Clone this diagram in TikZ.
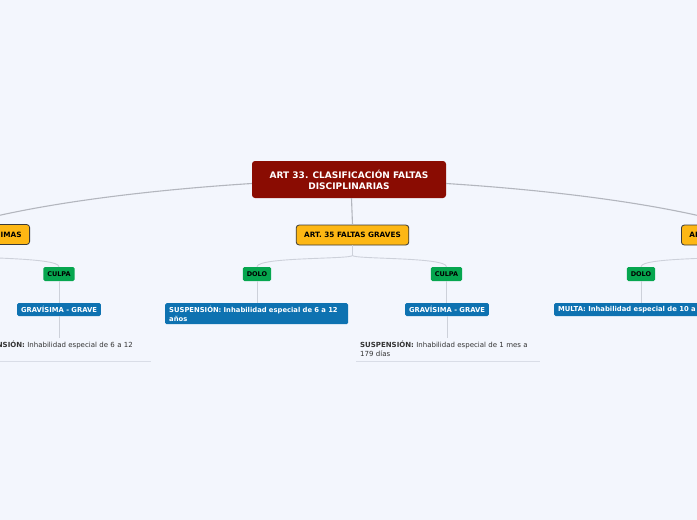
\documentclass[tikz,border=0pt]{standalone}
\usepackage{fontspec}
\setmainfont{DejaVu Sans}
\usetikzlibrary{calc}
\definecolor{bgcol}{HTML}{F3F6FD}
\definecolor{rootred}{HTML}{8A0C02}
\definecolor{orng}{HTML}{FDB714}
\definecolor{darkborder}{HTML}{3A3A3A}
\definecolor{grn}{HTML}{06A64F}
\definecolor{blu}{HTML}{0E72B1}
\definecolor{connA}{HTML}{B3B6BE}
\definecolor{connB}{HTML}{CDD1DA}
\definecolor{underl}{HTML}{D9DDE7}
\definecolor{leaftext}{HTML}{333333}
\begin{document}
\begin{tikzpicture}[x=1pt,y=-1pt,
  rootbox/.style={fill=rootred, rounded corners=3pt, text=white,
    font=\fontsize{9}{11}\selectfont\bfseries, align=center,
    minimum width=194pt, minimum height=37pt, inner sep=0pt},
  orangebox/.style={fill=orng, draw=darkborder, line width=0.8pt, rounded corners=3pt,
    font=\fontsize{7.3}{8}\selectfont\bfseries, minimum height=20pt,
    inner xsep=8pt, inner ysep=0pt},
  greenbox/.style={fill=grn, rounded corners=1.5pt,
    font=\fontsize{6.5}{7}\selectfont\bfseries, minimum height=14pt,
    inner xsep=4pt, inner ysep=0pt},
  bluebox/.style={fill=blu, text=white, rounded corners=1.5pt,
    font=\fontsize{6.8}{8.5}\selectfont\bfseries, minimum height=13pt,
    inner xsep=4pt, inner ysep=0pt, align=left},
  leaf/.style={anchor=north west, font=\fontsize{7}{9}\selectfont, text=leaftext,
    text width=176pt, inner xsep=4pt, inner ysep=3pt, align=left},
  connroot/.style={draw=connA, line width=1.1pt},
  connsub/.style={draw=connB, line width=0.9pt},
  uline/.style={draw=underl, line width=1.6pt}
]
\useasboundingbox (0,0) rectangle (697,520);
\fill[bgcol] (0,0) rectangle (697,520);
\clip (0,0) rectangle (697,520);

% nodes
\node[rootbox] (root) at (349,179.5) {ART 33. CLASIFICACIÓN FALTAS\\DISCIPLINARIAS};
\node[orangebox, anchor=east] (oL) at (30,234.5) {ART. 34 FALTAS GRAVÍSIMAS};
\node[orangebox] (oM) at (352.5,235) {ART. 35 FALTAS GRAVES};
\node[orangebox, anchor=west] (oR) at (681,235) {ART. 36 FALTAS LEVES};

\node[greenbox] (gL) at (59,274) {CULPA};
\node[greenbox] (gM1) at (257,274) {DOLO};
\node[greenbox] (gM2) at (446.5,274) {CULPA};
\node[greenbox] (gR) at (641,274) {DOLO};

\node[bluebox] (bL) at (59,309.5) {GRAVÍSIMA - GRAVE};
\node[bluebox, anchor=north west, text width=175pt, minimum height=21pt, inner ysep=2pt] (bM1) at (165,303) {SUSPENSIÓN: Inhabilidad especial de 6 a 12\\años};
\node[bluebox] (bM2) at (447,309.5) {GRAVÍSIMA - GRAVE};
\node[bluebox, anchor=west] (bR) at (554,309.5) {MULTA: Inhabilidad especial de 10 a 15 años};

\node[leaf] (lL) at (-33,338) {\textbf{SUSPENSIÓN:} Inhabilidad especial de 6 a 12\\años};
\node[leaf] (lM) at (356,338) {\textbf{SUSPENSIÓN:} Inhabilidad especial de 1 mes a\\179 días};

% underlines
\draw[uline] ([yshift=-1.5pt]lL.south west) -- ([yshift=-1.5pt]lL.south east);
\draw[uline] ([yshift=-1.5pt]lM.south west) -- ([yshift=-1.5pt]lM.south east);

% connectors
\path[connroot] ($(root.west)+(0,4)$) .. controls (150,190) and (40,203) .. (oL.north);
\path[connroot] ($(root.east)+(0,4)$) .. controls (548,190) and (658,203) .. (oR.north);
\path[connroot] ($(root.south)+(2.5,0)$) -- (oM.north);

\path[connsub] (oM.south) -- ($(oM.south)+(0,10)$) .. controls ($(oM.south)+(0,14)$) and ($(gM1.north)+(0,-10)$) .. (gM1.north);
\path[connsub] (oM.south) -- ($(oM.south)+(0,10)$) .. controls ($(oM.south)+(0,14)$) and ($(gM2.north)+(0,-10)$) .. (gM2.north);
\path[connsub] (oL.south) -- ($(oL.south)+(0,10)$) .. controls ($(oL.south)+(0,14)$) and ($(gL.north)+(0,-10)$) .. (gL.north);
\path[connsub] (oR.south) -- ($(oR.south)+(0,10)$) .. controls ($(oR.south)+(0,14)$) and ($(gR.north)+(0,-10)$) .. (gR.north);

\path[connsub] (gL.south) -- (gL.south |- bL.north);
\path[connsub] (bL.south) -- (bL.south |- lL.north);
\path[connsub] (gM1.south) -- (gM1.south |- bM1.north);
\path[connsub] (gM2.south) -- (gM2.south |- bM2.north);
\path[connsub] (bM2.south) -- (bM2.south |- lM.north);
\path[connsub] (gR.south) -- (gR.south |- bR.north);
\end{tikzpicture}
\end{document}
